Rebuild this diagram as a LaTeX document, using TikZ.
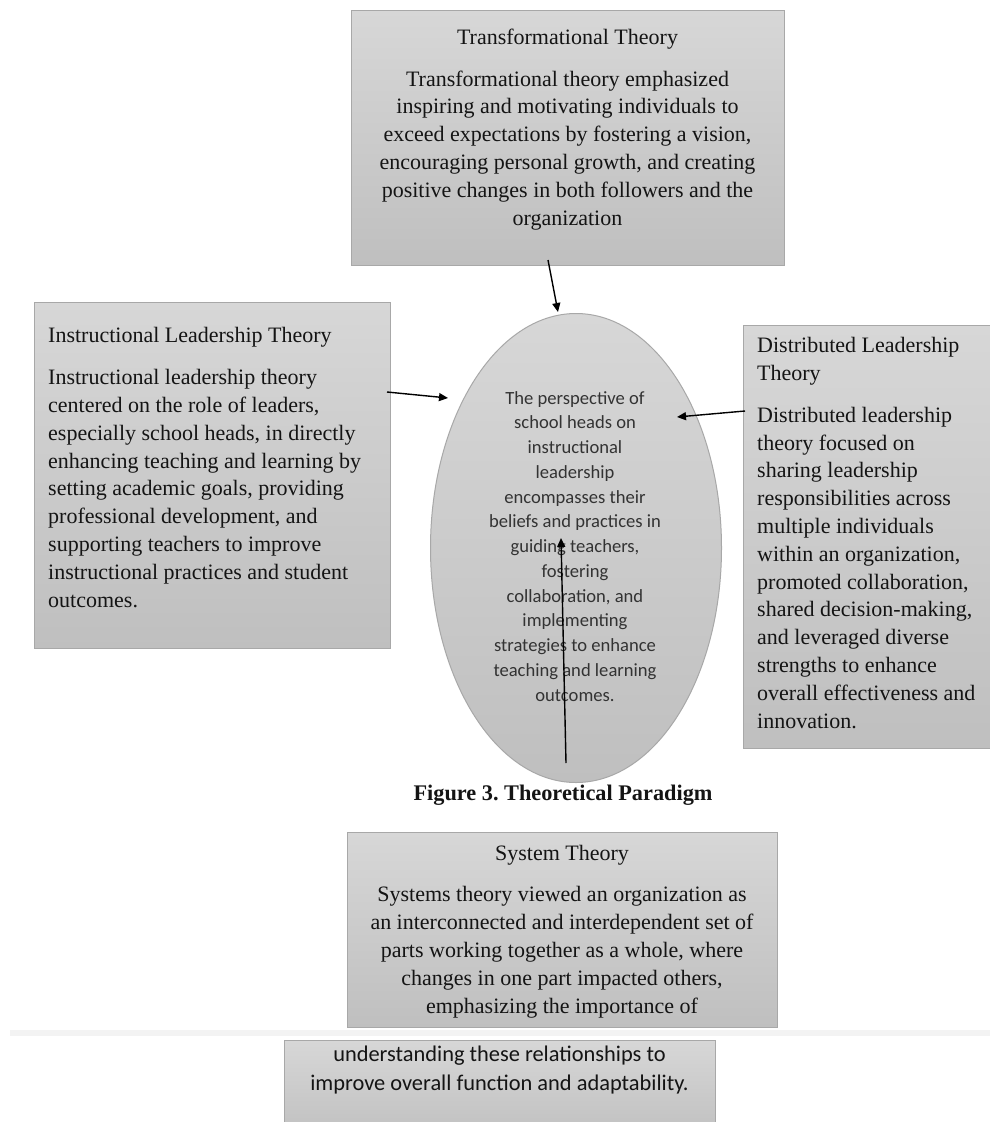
\documentclass[tikz,border=0pt]{standalone}
\usepackage{fontspec}
\setmainfont{Liberation Serif}
\newfontfamily\carl{Carlito}
\usetikzlibrary{arrows.meta,shapes.geometric}
\frenchspacing
\definecolor{boxtop}{HTML}{D7D7D7}
\definecolor{boxbot}{HTML}{BFBFBF}
\definecolor{boxline}{HTML}{A8A8A8}
\definecolor{txt}{HTML}{141414}
\definecolor{ovaltxt}{HTML}{333333}
\definecolor{bandgray}{HTML}{F3F3F3}
\tikzset{
  theorybox/.style={draw=boxline, line width=1pt, top color=boxtop, bottom color=boxbot, rectangle, inner sep=0pt, anchor=north west},
  sertext/.style={inner sep=0pt, text=txt, font=\fontsize{22}{27.8}\selectfont},
  ovaltext/.style={inner sep=0pt, text=ovaltxt, font=\carl\fontsize{18.6}{24.75}\selectfont, align=center},
  sanstext/.style={inner sep=0pt, text=txt, font=\carl\fontsize{22.4}{29}\selectfont, align=center},
  link/.style={line width=1.4pt, black, -{Triangle[length=9pt,width=8pt]}},
}
\begin{document}
\begin{tikzpicture}[x=1pt,y=-1pt]
\useasboundingbox[fill=white] (0,0) rectangle (990,1122);
\fill[bandgray] (10,1030) rectangle (990,1036);

% boxes
\node[theorybox, minimum width=433pt, minimum height=255pt] (trans) at (351,10) {};
\node[theorybox, minimum width=356pt, minimum height=346pt] (instr) at (34,302) {};
\node[theorybox, minimum width=260pt, minimum height=423pt] (dist) at (743,325) {};
\node[theorybox, minimum width=430pt, minimum height=195pt] (sys) at (347,832) {};
\node[theorybox, minimum width=431pt, minimum height=100pt] (sys2) at (284,1040) {};

% central ellipse
\node[ellipse, draw=boxline, line width=1pt, top color=boxtop, bottom color=boxbot,
      minimum width=291pt, minimum height=469pt, inner sep=0pt] (ell) at (576,548) {};

% texts (anchor=base is the baseline of the last line)
\node[sertext, align=center, anchor=base] (transT) at (567.5,225)
  {Transformational Theory\\[14pt]
   Transformational theory emphasized\\
   inspiring and motivating individuals to\\
   exceed expectations by fostering a vision,\\
   encouraging personal growth, and creating\\
   positive changes in both followers and the\\
   organization};

\node[sertext, align=left, anchor=base west] (instrT) at (48,607)
  {Instructional Leadership Theory\\[14pt]
   Instructional leadership theory\\
   centered on the role of leaders,\\
   especially school heads, in directly\\
   enhancing teaching and learning by\\
   setting academic goals, providing\\
   professional development, and\\
   supporting teachers to improve\\
   instructional practices and student\\
   outcomes.};

\node[sertext, align=left, anchor=base west] (distT) at (757,728)
  {Distributed Leadership\\
   Theory\\[14pt]
   Distributed leadership\\
   theory focused on\\
   sharing leadership\\
   responsibilities across\\
   multiple individuals\\
   within an organization,\\
   promoted collaboration,\\
   shared decision-making,\\
   and leveraged diverse\\
   strengths to enhance\\
   overall effectiveness and\\
   innovation.};

\node[sertext, align=center, anchor=base] (sysT) at (562,1013)
  {System Theory\\[14pt]
   Systems theory viewed an organization as\\
   an interconnected and interdependent set of\\
   parts working together as a whole, where\\
   changes in one part impacted others,\\
   emphasizing the importance of};

\node[sanstext, anchor=base] (sys2T) at (499.5,1090)
  {understanding these relationships to\\
   improve overall function and adaptability.};

\node[ovaltext, anchor=base] (ellT) at (575,701)
  {The perspective of\\
   school heads on\\
   instructional\\
   leadership\\
   encompasses their\\
   beliefs and practices in\\
   guiding teachers,\\
   fostering\\
   collaboration, and\\
   implementing\\
   strategies to enhance\\
   teaching and learning\\
   outcomes.};

\node[inner sep=0pt, text=txt, font=\bfseries\fontsize{22.3}{27}\selectfont, anchor=base] (caption) at (563,800)
  {Figure 3. Theoretical Paradigm};

% connectors
\coordinate (transOut) at (548,260);
\coordinate (ellTop) at (558,312);
\coordinate (instrOut) at (387,392);
\coordinate (ellLeft) at (448,398);
\coordinate (distOut) at (745,411);
\coordinate (ellRight) at (677,417);
\coordinate (ellBottom) at (566,763);
\coordinate (ellMid) at (561,538);

\draw[link] (transOut) -- (ellTop);
\draw[link] (instrOut) -- (ellLeft);
\draw[link] (distOut) -- (ellRight);
\draw[link] (ellBottom) -- (ellMid);
\end{tikzpicture}
\end{document}
